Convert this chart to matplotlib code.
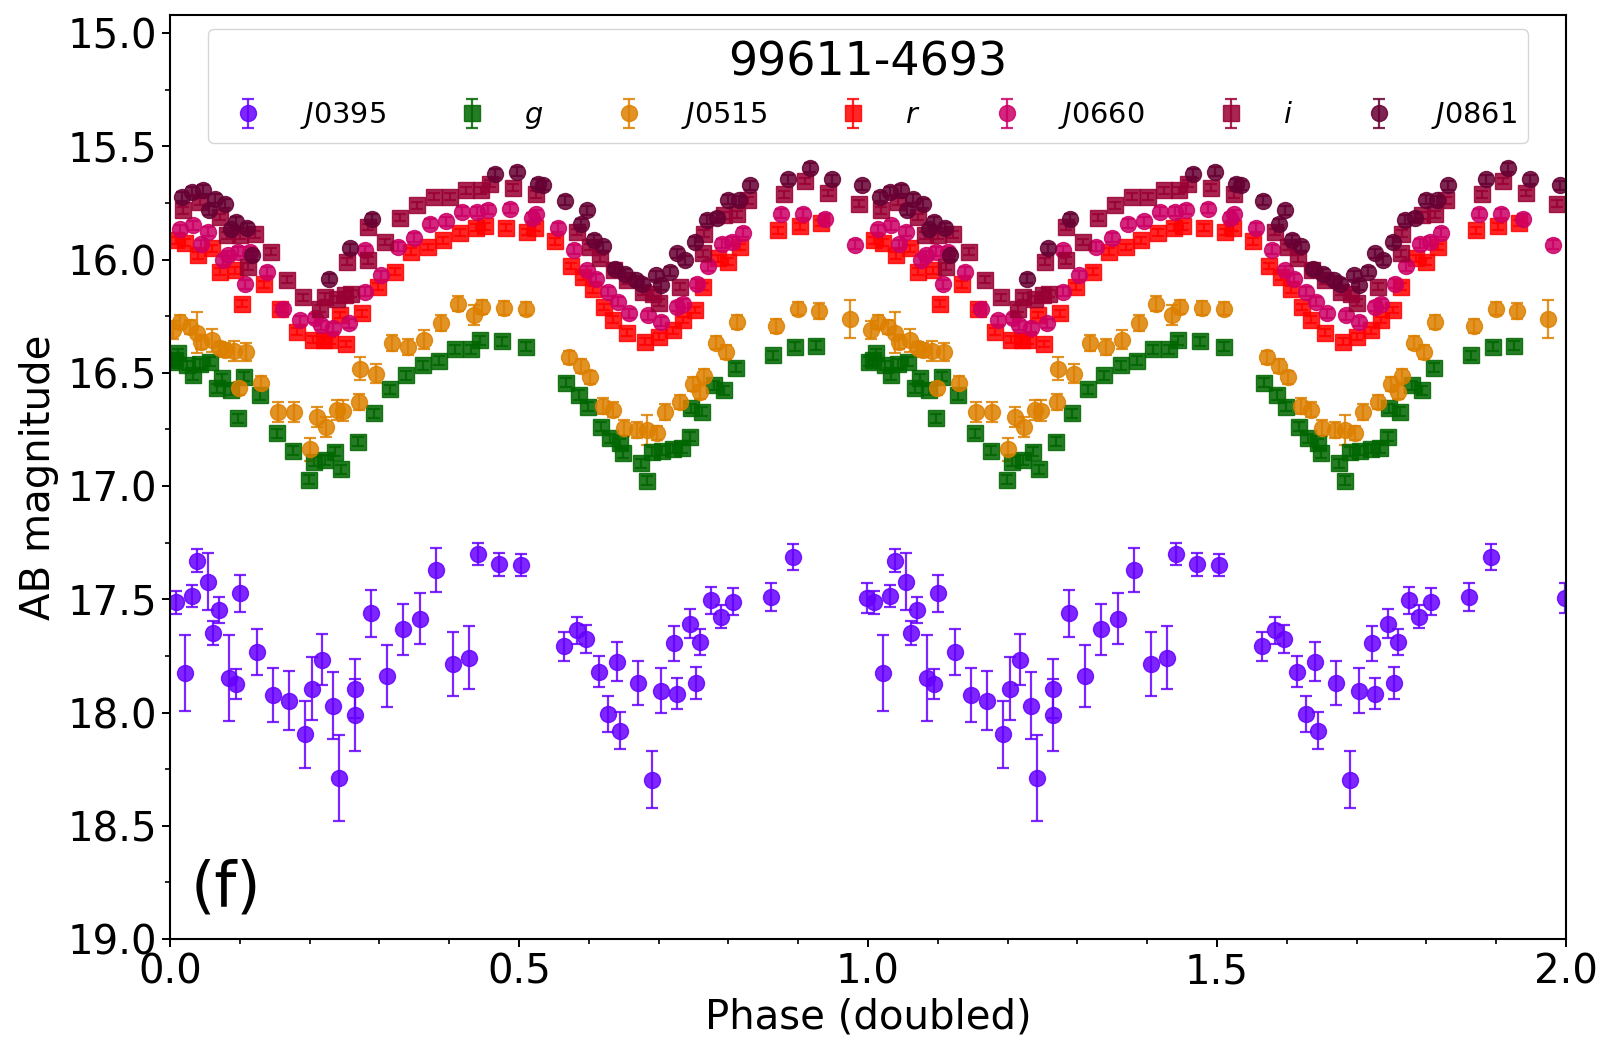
import numpy as np
import matplotlib
matplotlib.use('Agg')
import matplotlib.pyplot as plt
from matplotlib.ticker import MultipleLocator

# ---------------- data (phase in [0,1), plotted twice) ----------------
j0395_phase = [0.008, 0.022, 0.031, 0.039, 0.054, 0.062, 0.070, 0.085, 0.094, 0.101,
               0.125, 0.148, 0.171, 0.194, 0.203, 0.218, 0.234, 0.242, 0.265, 0.265,
               0.288, 0.311, 0.334, 0.358, 0.381, 0.405, 0.428, 0.441, 0.472, 0.503,
               0.564, 0.583, 0.596, 0.614, 0.627, 0.640, 0.645, 0.671, 0.690, 0.703,
               0.722, 0.727, 0.745, 0.753, 0.759, 0.775, 0.790, 0.806, 0.861, 0.892,
               0.998]
j0395_mag = [17.514, 17.826, 17.486, 17.330, 17.422, 17.648, 17.547, 17.847, 17.875, 17.473,
             17.733, 17.922, 17.947, 18.097, 17.894, 17.766, 17.970, 18.288, 17.894, 18.010,
             17.561, 17.839, 17.632, 17.585, 17.370, 17.786, 17.758, 17.300, 17.345, 17.348,
             17.708, 17.636, 17.676, 17.819, 18.007, 17.776, 18.080, 17.870, 18.297, 17.903,
             17.694, 17.916, 17.607, 17.870, 17.689, 17.504, 17.576, 17.511, 17.489, 17.314,
             17.495]
j0395_err = [0.051, 0.169, 0.048, 0.050, 0.125, 0.053, 0.056, 0.190, 0.066, 0.081,
             0.101, 0.120, 0.130, 0.150, 0.137, 0.113, 0.147, 0.190, 0.130, 0.160,
             0.104, 0.135, 0.113, 0.114, 0.096, 0.140, 0.140, 0.050, 0.050, 0.048,
             0.064, 0.060, 0.063, 0.070, 0.080, 0.086, 0.082, 0.097, 0.126, 0.101,
             0.078, 0.067, 0.062, 0.071, 0.056, 0.059, 0.052, 0.059, 0.062, 0.056,
             0.066]

g_phase = [0.001, 0.007, 0.012, 0.024, 0.033, 0.043, 0.057, 0.067, 0.074, 0.088,
           0.097, 0.106, 0.129, 0.153, 0.176, 0.199, 0.206, 0.222, 0.237, 0.245,
           0.269, 0.292, 0.315, 0.338, 0.362, 0.386, 0.408, 0.431, 0.444, 0.475,
           0.510, 0.567, 0.586, 0.599, 0.617, 0.630, 0.644, 0.649, 0.675, 0.683,
           0.690, 0.705, 0.720, 0.733, 0.745, 0.747, 0.762, 0.780, 0.793, 0.811,
           0.864, 0.895, 0.926]
g_mag = [16.451, 16.444, 16.414, 16.466, 16.510, 16.461, 16.451, 16.569, 16.525, 16.576,
         16.701, 16.517, 16.598, 16.767, 16.844, 16.973, 16.892, 16.885, 16.848, 16.926,
         16.804, 16.679, 16.573, 16.510, 16.466, 16.447, 16.397, 16.397, 16.356, 16.360,
         16.385, 16.544, 16.598, 16.650, 16.738, 16.789, 16.812, 16.856, 16.900, 16.976,
         16.848, 16.845, 16.836, 16.834, 16.782, 16.657, 16.672, 16.554, 16.576, 16.478,
         16.422, 16.385, 16.381]
g_err = 0.02

j0515_phase = [0.005, 0.014, 0.029, 0.038, 0.045, 0.060, 0.072, 0.079, 0.092, 0.099,
               0.109, 0.131, 0.155, 0.178, 0.201, 0.210, 0.224, 0.239, 0.248, 0.271,
               0.272, 0.295, 0.3185, 0.3415, 0.364, 0.388, 0.412, 0.435, 0.447, 0.479,
               0.510, 0.571, 0.589, 0.602, 0.620, 0.634, 0.650, 0.669, 0.683, 0.697,
               0.709, 0.731, 0.750, 0.759, 0.765, 0.782, 0.797, 0.813, 0.868, 0.899,
               0.930, 0.974]
j0515_mag = [16.310, 16.275, 16.297, 16.323, 16.363, 16.356, 16.392, 16.400, 16.403, 16.569,
             16.407, 16.544, 16.672, 16.672, 16.838, 16.694, 16.738, 16.664, 16.667, 16.628,
             16.481, 16.503, 16.367, 16.385, 16.353, 16.279, 16.194, 16.245, 16.209, 16.213,
             16.216, 16.432, 16.469, 16.520, 16.647, 16.662, 16.745, 16.753, 16.753, 16.765,
             16.672, 16.628, 16.550, 16.584, 16.514, 16.367, 16.407, 16.275, 16.294, 16.216,
             16.226, 16.263]
j0515_err = [0.040, 0.030, 0.030, 0.090, 0.030, 0.050, 0.030, 0.030, 0.045, 0.030,
             0.040, 0.030, 0.045, 0.045, 0.050, 0.045, 0.045, 0.045, 0.045, 0.035,
             0.050, 0.040, 0.035, 0.035, 0.040, 0.035, 0.035, 0.045, 0.030, 0.030,
             0.030, 0.030, 0.030, 0.030, 0.035, 0.035, 0.035, 0.035, 0.065, 0.030,
             0.035, 0.030, 0.030, 0.030, 0.030, 0.030, 0.030, 0.030, 0.030, 0.030,
             0.035, 0.085]

r_phase = [0.008, 0.022, 0.040, 0.060, 0.072, 0.093, 0.103, 0.135, 0.158, 0.182,
           0.205, 0.220, 0.229, 0.244, 0.252, 0.2745, 0.2985, 0.322, 0.345, 0.369,
           0.391, 0.416, 0.439, 0.452, 0.481, 0.512, 0.523, 0.551, 0.574, 0.592,
           0.606, 0.622, 0.635, 0.655, 0.681, 0.700, 0.721, 0.735, 0.752, 0.764,
           0.785, 0.800, 0.816, 0.871, 0.902, 0.933]
r_mag = [15.915, 15.925, 15.981, 15.951, 16.054, 16.047, 16.194, 16.109, 16.216, 16.319,
         16.353, 16.356, 16.356, 16.245, 16.373, 16.238, 16.120, 16.054, 15.966, 15.944,
         15.915, 15.882, 15.859, 15.853, 15.859, 15.878, 15.859, 15.919, 16.028, 16.076,
         16.132, 16.209, 16.265, 16.323, 16.363, 16.341, 16.312, 16.267, 16.223, 16.120,
         15.995, 16.010, 15.944, 15.870, 15.853, 15.838]
r_err = 0.015

j0660_phase = [0.014, 0.033, 0.045, 0.055, 0.076, 0.083, 0.098, 0.107, 0.115, 0.139,
               0.162, 0.186, 0.208, 0.217, 0.234, 0.256, 0.279, 0.279, 0.302, 0.326,
               0.349, 0.372, 0.396, 0.419, 0.440, 0.456, 0.487, 0.518, 0.525, 0.556,
               0.579, 0.597, 0.611, 0.628, 0.642, 0.658, 0.685, 0.704, 0.726, 0.735,
               0.755, 0.771, 0.791, 0.805, 0.821, 0.875, 0.907, 0.938, 0.982]
j0660_mag = [15.867, 15.848, 15.932, 15.878, 16.003, 15.981, 15.966, 16.109, 15.966, 16.054,
             16.216, 16.267, 16.260, 16.289, 16.301, 16.282, 16.142, 15.959, 16.069, 15.944,
             15.903, 15.841, 15.831, 15.789, 15.789, 15.779, 15.775, 15.815, 15.800, 15.859,
             15.956, 16.047, 16.084, 16.142, 16.187, 16.238, 16.245, 16.275, 16.209, 16.194,
             16.106, 16.029, 15.929, 15.922, 15.882, 15.797, 15.797, 15.819, 15.934]
j0660_err = 0.02

i_phase = [0.019, 0.043, 0.072, 0.081, 0.100, 0.112, 0.122, 0.144, 0.167, 0.191,
           0.215, 0.222, 0.239, 0.251, 0.253, 0.260, 0.284, 0.284, 0.308, 0.330,
           0.354, 0.378, 0.401, 0.424, 0.446, 0.459, 0.492, 0.525, 0.5825, 0.602,
           0.616, 0.6355, 0.655, 0.678, 0.692, 0.700, 0.731, 0.764, 0.765, 0.793,
           0.812, 0.828, 0.880, 0.910, 0.942, 0.987]
i_mag = [15.782, 15.745, 15.812, 15.892, 15.892, 16.032, 15.888, 15.966, 16.088, 16.167,
         16.216, 16.164, 16.176, 16.157, 16.010, 16.150, 15.856, 16.003, 15.922, 15.815,
         15.760, 15.723, 15.723, 15.694, 15.694, 15.665, 15.682, 15.712, 15.878, 15.944,
         15.995, 16.047, 16.091, 16.142, 16.150, 16.191, 16.120, 15.973, 15.885, 15.804,
         15.800, 15.738, 15.712, 15.653, 15.706, 15.753]
i_err = 0.015

j0861_phase = [0.017, 0.031, 0.047, 0.056, 0.064, 0.079, 0.087, 0.095, 0.110, 0.118,
               0.228, 0.258, 0.289, 0.465, 0.497, 0.527, 0.535, 0.566, 0.589, 0.597,
               0.607, 0.620, 0.638, 0.652, 0.667, 0.676, 0.696, 0.704, 0.716, 0.727,
               0.738, 0.752, 0.769, 0.783, 0.800, 0.815, 0.831, 0.886, 0.917, 0.948,
               0.992]
j0861_mag = [15.723, 15.700, 15.691, 15.782, 15.731, 15.753, 15.867, 15.834, 15.859, 15.981,
             16.084, 15.951, 15.819, 15.620, 15.613, 15.665, 15.672, 15.741, 15.841, 15.782,
             15.912, 15.941, 16.040, 16.062, 16.091, 16.106, 16.069, 16.113, 16.054, 15.973,
             16.003, 15.922, 15.823, 15.815, 15.735, 15.738, 15.672, 15.645, 15.595, 15.645,
             15.672]
j0861_err = 0.02

labels = [r'$J0395$', r'$g$', r'$J0515$', r'$r$', r'$J0660$', r'$i$', r'$J0861$']
colors = ['#6600FF', '#006600', '#DD8000', '#FF0000', '#CC0066', '#990033', '#660033']
markers = ['o', 's', 'o', 's', 'o', 's', 'o']
title = '99611-4693'

# ---------------- figure ----------------
W, H = 1615, 1058
fig = plt.figure(figsize=(W / 100, H / 100), dpi=100)
ax = fig.add_axes([170 / W, 1 - 939 / H, 1396 / W, 924 / H])

data = [(j0395_phase, j0395_mag, j0395_err),
        (g_phase, g_mag, g_err),
        (j0515_phase, j0515_mag, j0515_err),
        (r_phase, r_mag, r_err),
        (j0660_phase, j0660_mag, j0660_err),
        (i_phase, i_mag, i_err),
        (j0861_phase, j0861_mag, j0861_err)]

for (ph, mag, err), lab, col, mk in zip(data, labels, colors, markers):
    ph = np.asarray(ph, float)
    mag = np.asarray(mag, float)
    err = np.broadcast_to(np.asarray(err, float), ph.shape)
    x = np.concatenate([ph, ph + 1.0])
    y = np.concatenate([mag, mag])
    e = np.concatenate([err, err])
    ax.errorbar(x, y, yerr=e, fmt=mk, color=col, ms=11.5, alpha=0.85,
                capsize=4, elinewidth=1.6, capthick=1.6, label=lab)

ax.set_xlim(0, 2)
ax.set_ylim(19.0, 14.92)
ax.xaxis.set_major_locator(MultipleLocator(0.5))
ax.xaxis.set_minor_locator(MultipleLocator(0.1))
ax.yaxis.set_major_locator(MultipleLocator(0.5))
ax.yaxis.set_minor_locator(MultipleLocator(0.25))
ax.tick_params(which='major', labelsize=29, length=6, width=1.4)
ax.tick_params(which='minor', length=3.5, width=1.2)
for s in ax.spines.values():
    s.set_linewidth(1.5)

ax.set_xlabel('Phase (doubled)', fontsize=29)
ax.set_ylabel('AB magnitude', fontsize=29, labelpad=6)

ax.text(0.015, 0.022, '(f)', transform=ax.transAxes, fontsize=45,
        ha='left', va='bottom')

leg = ax.legend(title=title, ncol=7, loc='upper center', fontsize=20.7,
                title_fontsize=33, framealpha=0.8)

fig.savefig('out.png', dpi=100)
